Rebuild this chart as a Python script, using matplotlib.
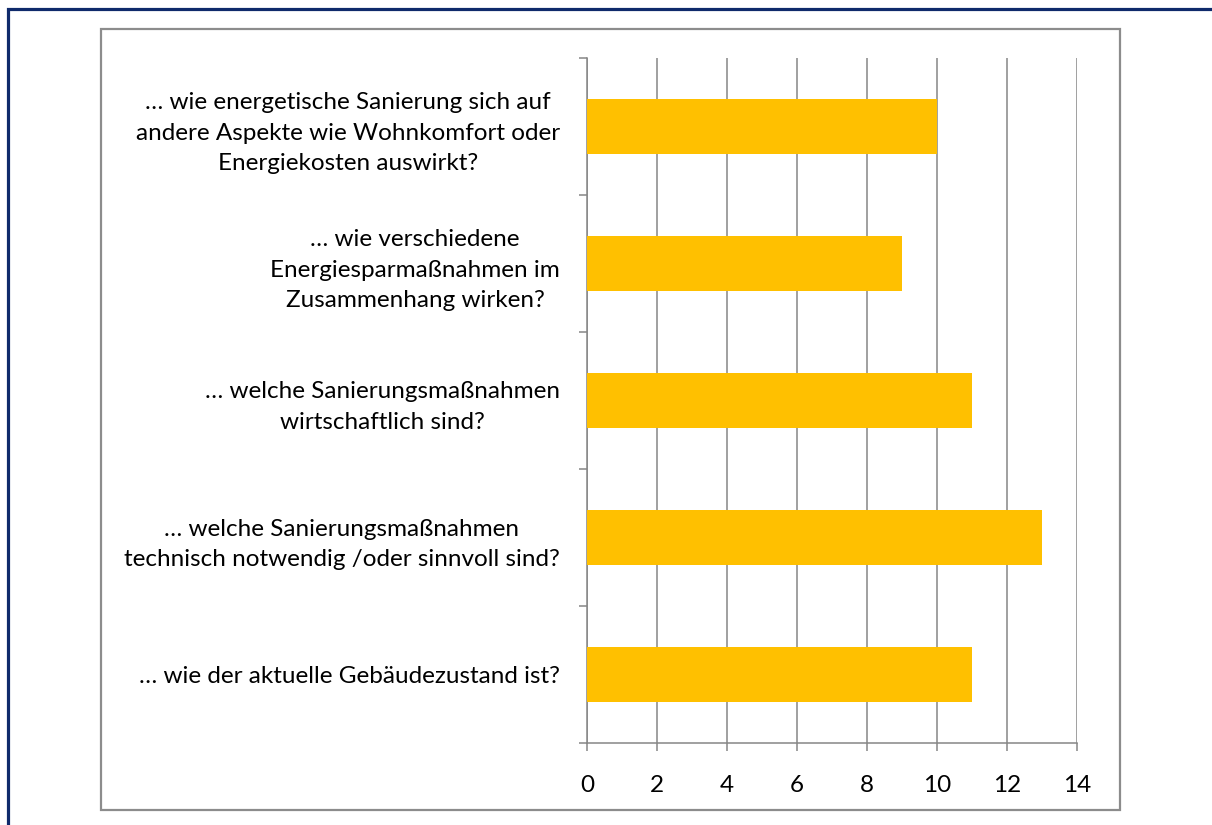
import matplotlib
matplotlib.use("Agg")
import matplotlib.pyplot as plt
from matplotlib.patches import Rectangle
import numpy as np

categories = [
    "… wie energetische Sanierung sich auf\nandere Aspekte wie Wohnkomfort oder\nEnergiekosten auswirkt?",
    "… wie verschiedene\nEnergiesparmaßnahmen im\nZusammenhang wirken?",
    "… welche Sanierungsmaßnahmen\nwirtschaftlich sind?",
    "… welche Sanierungsmaßnahmen\ntechnisch notwendig /oder sinnvoll sind?",
    "… wie der aktuelle Gebäudezustand ist?",
]
values = [10, 9, 11, 13, 11]
xticks = [0, 2, 4, 6, 8, 10, 12, 14]

plt.rcParams['font.family'] = ['Lato', 'DejaVu Sans']

W, H = 1212, 825
fig = plt.figure(figsize=(W / 100, H / 100), dpi=100)
fig.patch.set_facecolor('white')

# outer navy frame (extends past right/bottom edges)
fig.patches.append(Rectangle((8.0 / W, -0.1), 1.2, 1 - 9.0 / H + 0.1, transform=fig.transFigure,
                             fill=False, edgecolor='#0F2A6B', linewidth=2.3, zorder=0))
# chart area frame
fig.patches.append(Rectangle((100.5 / W, 1 - 810 / H), (1120 - 100.5) / W, (810 - 29) / H,
                             transform=fig.transFigure, fill=False, edgecolor='#8C8C8C',
                             linewidth=1.6, zorder=0))

ax = fig.add_axes([587 / W, 1 - 743 / H, (1077 - 587) / W, (743 - 58) / H])
y = np.arange(len(categories))
ax.barh(y, values, height=0.4, color='#FFC000', zorder=3)
ax.set_ylim(len(categories) - 0.5, -0.5)
ax.set_xlim(0, 14)

ax.set_xticks(xticks)
ax.set_xticklabels([str(t) for t in xticks])
ax.set_yticks(y)
ax.set_yticklabels(categories)
ax.set_yticks(np.arange(-0.5, len(categories), 1), minor=True)

ax.tick_params(axis='y', which='major', length=0, pad=19.5, labelsize=17.5)
ax.tick_params(axis='y', which='minor', length=6, width=1.1, color='#868686')
ax.tick_params(axis='x', length=6, width=1.1, color='#868686', pad=17, labelsize=17.5)
for lab in ax.get_yticklabels():
    lab.set_multialignment('center')
    lab.set_linespacing(1.53)

ax.grid(axis='x', color='#868686', linewidth=1.1, zorder=0)
ax.set_axisbelow(True)
for s in ['top', 'right']:
    ax.spines[s].set_visible(False)
for s in ['left', 'bottom']:
    ax.spines[s].set_color('#868686')
    ax.spines[s].set_linewidth(1.1)

fig.savefig('out.png', dpi=100)
